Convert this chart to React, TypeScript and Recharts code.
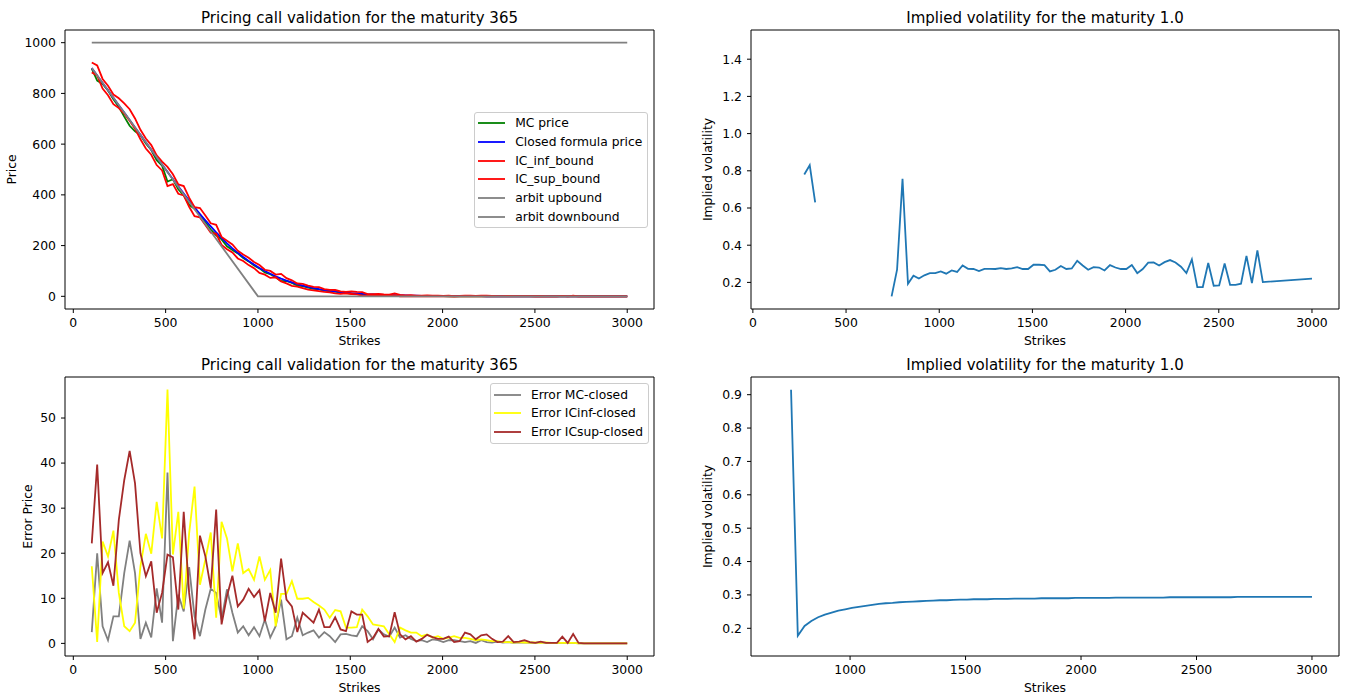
import React from 'react';
import { LineChart, Line, XAxis, YAxis, ReferenceArea, Legend } from 'recharts';

// strikes used for every pricing run
const strikes = [
  100.0, 129.3, 158.6, 187.9, 217.2, 246.5, 275.8, 305.1, 334.3, 363.6,
  392.9, 422.2, 451.5, 480.8, 510.1, 539.4, 568.7, 598.0, 627.3, 656.6,
  685.9, 715.2, 744.4, 773.7, 803.0, 832.3, 861.6, 890.9, 920.2, 949.5,
  978.8, 1008.1, 1037.4, 1066.7, 1096.0, 1125.3, 1154.5, 1183.8, 1213.1, 1242.4,
  1271.7, 1301.0, 1330.3, 1359.6, 1388.9, 1418.2, 1447.5, 1476.8, 1506.1, 1535.4,
  1564.6, 1593.9, 1623.2, 1652.5, 1681.8, 1711.1, 1740.4, 1769.7, 1799.0, 1828.3,
  1857.6, 1886.9, 1916.2, 1945.5, 1974.7, 2004.0, 2033.3, 2062.6, 2091.9, 2121.2,
  2150.5, 2179.8, 2209.1, 2238.4, 2267.7, 2297.0, 2326.3, 2355.6, 2384.8, 2414.1,
  2443.4, 2472.7, 2502.0, 2531.3, 2560.6, 2589.9, 2619.2, 2648.5, 2677.8, 2707.1,
  2736.4, 2765.7, 2795.0, 2824.2, 2853.5, 2882.8, 2912.1, 2941.4, 2970.7, 3000.0,
];

const closedPrice = [
  900.0, 870.7, 841.4, 812.1, 782.8, 753.5, 724.2, 695.0, 665.7, 636.5,
  607.2, 578.0, 548.9, 519.6, 490.6, 461.9, 433.5, 405.4, 377.7, 350.7,
  324.3, 299.7, 275.5, 252.1, 230.0, 209.0, 189.2, 171.5, 155.1, 139.6,
  125.2, 111.7, 99.7, 88.9, 79.0, 69.9, 62.0, 54.8, 48.0, 42.1,
  36.8, 32.7, 28.5, 24.8, 21.6, 19.1, 16.8, 14.7, 12.7, 11.2,
  9.9, 8.4, 7.4, 6.5, 5.7, 5.0, 4.3, 3.7, 3.2, 2.7,
  2.3, 2.0, 1.7, 1.5, 1.3, 1.1, 0.95, 0.8, 0.7, 0.6,
  0.5, 0.43, 0.37, 0.32, 0.27, 0.23, 0.2, 0.17, 0.15, 0.13,
  0.11, 0.1, 0.08, 0.07, 0.06, 0.05, 0.04, 0.04, 0.03, 0.03,
  0.02, 0.02, 0.02, 0.01, 0.01, 0.01, 0.01, 0.01, 0.0, 0.0,
];

const mcError = [
  2.5, 20.0, 3.8, 0.7, 6.0, 6.0, 15.6, 22.8, 15.6, 1.0,
  4.6, 1.3, 12.2, 4.6, 37.9, 0.5, 10.8, 7.1, 16.9, 6.0,
  1.6, 7.5, 12.1, 11.2, 5.3, 12.0, 6.8, 2.4, 3.8, 1.8,
  3.6, 1.6, 5.3, 1.3, 3.8, 9.7, 0.9, 1.6, 5.7, 1.8,
  2.4, 2.9, 1.3, 2.5, 1.6, 0.3, 2.0, 2.1, 1.8, 1.6,
  3.8, 2.7, 0.9, 3.1, 2.0, 1.5, 3.5, 1.3, 1.8, 1.0,
  0.5, 0.7, 0.3, 0.9, 0.7, 0.3, 0.7, 0.7, 0.5, 0.3,
  0.5, 0.1, 0.7, 0.3, 0.2, 0.4, 0.2, 0.3, 0.1, 0.2,
  0.2, 0.1, 0.1, 0.2, 0.1, 0.1, 0.1, 0.1, 0.1, 0.1,
  0.0, 0.0, 0.0, 0.0, 0.0, 0.0, 0.0, 0.0, 0.0, 0.0,
];

const icInfError = [
  17.1, 0.3, 22.6, 19.3, 25.0, 11.2, 3.8, 2.7, 4.6, 17.1,
  24.3, 19.9, 31.4, 23.3, 56.3, 19.7, 29.2, 7.7, 24.4, 34.8,
  13.0, 18.6, 24.6, 5.7, 27.0, 23.3, 16.0, 22.2, 15.6, 16.5,
  14.1, 19.3, 14.1, 16.3, 3.8, 11.0, 11.0, 13.8, 9.9, 9.9,
  10.1, 9.2, 8.4, 7.5, 5.7, 7.4, 7.1, 3.5, 3.5, 3.6,
  7.5, 6.0, 4.2, 4.0, 3.8, 2.0, 0.3, 3.5, 2.9, 2.4,
  2.4, 1.6, 2.0, 1.3, 1.6, 1.0, 1.3, 1.6, 1.2, 1.2,
  1.0, 0.7, 0.9, 0.7, 0.5, 0.5, 0.3, 0.3, 0.2, 0.3,
  0.2, 0.2, 0.2, 0.1, 0.2, 0.1, 0.1, 0.1, 0.1, 0.1,
  0.0, 0.0, 0.0, 0.0, 0.0, 0.0, 0.0, 0.0, 0.0, 0.0,
];

const icSupError = [
  22.2, 39.7, 15.6, 18.0, 12.8, 27.4, 36.2, 42.7, 35.5, 20.0,
  14.9, 18.2, 6.8, 11.2, 19.7, 19.1, 7.5, 29.2, 11.2, 0.9,
  23.9, 19.3, 12.3, 29.7, 4.2, 10.5, 15.0, 8.2, 9.7, 12.1,
  10.3, 11.8, 4.9, 11.2, 6.8, 18.8, 9.7, 8.2, 2.5, 6.8,
  5.7, 4.6, 7.5, 3.6, 3.6, 5.8, 3.1, 2.7, 7.1, 6.4,
  6.4, 0.3, 1.2, 3.2, 1.5, 1.6, 6.9, 2.0, 0.9, 1.6,
  0.4, 1.0, 1.9, 1.4, 1.0, 1.0, 1.5, 0.3, 0.5, 2.4,
  2.0, 0.9, 1.8, 2.0, 1.0, 0.3, 0.4, 1.6, 0.3, 0.4,
  0.7, 0.3, 0.1, 0.4, 0.1, 0.1, 0.1, 1.5, 0.1, 2.1,
  0.1, 0.0, 0.0, 0.0, 0.0, 0.0, 0.0, 0.0, 0.0, 0.0,
];

// no-arbitrage bounds (straight pieces, only the corners)
const arbitUpStrikes = [100, 3000];
const arbitUpValues = [1000, 1000];
const arbitDownStrikes = [100, 1000, 3000];
const arbitDownValues = [900, 0, 0];

// implied vol from the MC prices (null = not found)
const ivMcStrikes = [
  275.8, 305.1, 334.3, 363.6, 744.4, 773.7, 803.0, 832.3, 861.6, 890.9,
  920.2, 949.5, 978.8, 1008.1, 1037.4, 1066.7, 1096.0, 1125.3, 1154.5, 1183.8,
  1213.1, 1242.4, 1271.7, 1301.0, 1330.3, 1359.6, 1388.9, 1418.2, 1447.5, 1476.8,
  1506.1, 1535.4, 1564.6, 1593.9, 1623.2, 1652.5, 1681.8, 1711.1, 1740.4, 1769.7,
  1799.0, 1828.3, 1857.6, 1886.9, 1916.2, 1945.5, 1974.7, 2004.0, 2033.3, 2062.6,
  2091.9, 2121.2, 2150.5, 2179.8, 2209.1, 2238.4, 2267.7, 2297.0, 2326.3, 2355.6,
  2384.8, 2414.1, 2443.4, 2472.7, 2502.0, 2531.3, 2560.6, 2589.9, 2619.2, 2648.5,
  2677.8, 2707.1, 2736.4, 3000.0,
];
const ivMcValues = [
  0.78, 0.83, 0.63, null, 0.125, 0.268, 0.757, 0.193, 0.236, 0.221,
  0.238, 0.25, 0.25, 0.259, 0.247, 0.264, 0.256, 0.291, 0.273, 0.272,
  0.261, 0.273, 0.273, 0.272, 0.277, 0.272, 0.275, 0.282, 0.272, 0.272,
  0.295, 0.295, 0.293, 0.259, 0.268, 0.288, 0.272, 0.275, 0.316, 0.291,
  0.268, 0.282, 0.28, 0.264, 0.293, 0.28, 0.272, 0.272, 0.293, 0.25,
  0.272, 0.306, 0.307, 0.291, 0.309, 0.32, 0.307, 0.284, 0.25, 0.324,
  0.175, 0.175, 0.304, 0.182, 0.184, 0.302, 0.187, 0.187, 0.193, 0.343,
  0.196, 0.372, 0.202, 0.22,
];

// implied vol from the closed formula prices, strikes from index 22 on
const ivClosedValues = [
  0.915, 0.178, 0.207, 0.222, 0.233, 0.241, 0.247, 0.253, 0.257, 0.261,
  0.264, 0.267, 0.270, 0.273, 0.275, 0.276, 0.278, 0.279, 0.280, 0.281,
  0.282, 0.283, 0.284, 0.284, 0.285, 0.286, 0.286, 0.287, 0.287, 0.287,
  0.288, 0.288, 0.288, 0.289, 0.289, 0.289, 0.289, 0.290, 0.290, 0.290,
  0.290, 0.290, 0.291, 0.291, 0.291, 0.291, 0.291, 0.291, 0.292, 0.292,
  0.292, 0.292, 0.292, 0.292, 0.292, 0.292, 0.293, 0.293, 0.293, 0.293,
  0.293, 0.293, 0.293, 0.293, 0.293, 0.293, 0.294, 0.294, 0.294, 0.294,
  0.294, 0.294, 0.294, 0.294, 0.294, 0.294, 0.294, 0.294,
];

const strikeTicks = [0, 500, 1000, 1500, 2000, 2500, 3000];
const strikeTicksRight = [1000, 1500, 2000, 2500, 3000];
const priceTicks = [0, 200, 400, 600, 800, 1000];
const errorTicks = [0, 10, 20, 30, 40, 50];
const ivTicksTop = [0.2, 0.4, 0.6, 0.8, 1.0, 1.2, 1.4];
const ivTicksBottom = [0.2, 0.3, 0.4, 0.5, 0.6, 0.7, 0.8, 0.9];

const priceNames = ['MC price', 'Closed formula price', 'IC_inf_bound', 'IC_sup_bound', 'arbit upbound', 'arbit downbound'];
const errorNames = ['Error MC-closed', 'Error ICinf-closed', 'Error ICsup-closed'];

const priceRows = strikes.map((K, i) => ({
  K,
  mc: closedPrice[i] - mcError[i],
  closed: closedPrice[i],
  icInf: closedPrice[i] - icInfError[i],
  icSup: closedPrice[i] + icSupError[i],
}));
const upRows = arbitUpStrikes.map((K, i) => ({ K, v: arbitUpValues[i] }));
const downRows = arbitDownStrikes.map((K, i) => ({ K, v: arbitDownValues[i] }));
const errorRows = strikes.map((K, i) => ({ K, mc: mcError[i], inf: icInfError[i], sup: icSupError[i] }));
const ivMcRows = ivMcStrikes.map((K, i) => ({ K, iv: ivMcValues[i] }));
const ivClosedRows = strikes.slice(22).map((K, i) => ({ K, iv: ivClosedValues[i] }));

const FONT = 'DejaVu Sans';
const TICK = 12.4;
const LW = 1.8;

const tickStyle = { fontSize: TICK, fill: '#000', fontFamily: FONT };
const xCommon = {
  dataKey: 'K',
  type: 'number' as const,
  allowDataOverflow: true,
  height: 40,
  tickSize: 4,
  tickMargin: 5,
  axisLine: false,
  tickLine: { stroke: '#000' },
  tick: tickStyle,
  interval: 0 as const,
  label: { value: 'Strikes', position: 'insideBottom' as const, offset: 4, fill: '#000', fontSize: TICK, fontFamily: FONT },
};
const yCommon = {
  type: 'number' as const,
  allowDataOverflow: true,
  width: 64,
  tickSize: 4,
  tickMargin: 5,
  axisLine: false,
  tickLine: { stroke: '#000' },
  tick: tickStyle,
  interval: 0 as const,
};
const yLabel = (value: string, dx: number) => ({
  value, angle: -90, position: 'center' as const, dx, fill: '#000', fontSize: TICK, fontFamily: FONT,
});
const frameLabel = (value: string) => ({
  value, position: 'top' as const, offset: 7, fill: '#000', fontSize: 15, fontFamily: FONT,
});

const LegendBox = ({ payload, order }: any) => {
  const items = [...(payload || [])].sort((a: any, b: any) => order.indexOf(a.value) - order.indexOf(b.value));
  return (
    <div style={{
      background: 'rgba(255,255,255,0.8)', border: '1px solid #cccccc', borderRadius: 3,
      padding: '1px 5px 1px 3px', fontFamily: FONT, fontSize: 12.3, color: '#000',
    }}>
      {items.map((it: any) => (
        <div key={it.value} style={{ display: 'flex', alignItems: 'center', height: 18.8 }}>
          <svg width={27} height={4} style={{ marginRight: 10 }}>
            <line x1={0} y1={2} x2={27} y2={2} stroke={it.color} strokeWidth={LW} />
          </svg>
          <span style={{ whiteSpace: 'nowrap' }}>{it.value}</span>
        </div>
      ))}
    </div>
  );
};

const box = (left: number, top: number): React.CSSProperties => ({ position: 'absolute', left, top });

export default function App() {
  return (
    <div style={{ position: 'absolute', left: 0, top: 0, width: 1351, height: 696, overflow: 'hidden', background: '#fff', fontFamily: FONT }}>
      {/* prices */}
      <div style={box(1, 0)}>
        <LineChart width={659} height={349} data={priceRows} margin={{ top: 30, right: 6, bottom: 0, left: 0 }}>
          <XAxis {...xCommon} domain={[-45, 3145]} ticks={strikeTicks} />
          <YAxis {...yCommon} domain={[-50, 1050]} ticks={priceTicks} label={yLabel('Price', -21)} />
          <ReferenceArea x1={-45} x2={3145} y1={-50} y2={1050} fill="none" stroke="#000" strokeWidth={1}
            ifOverflow="visible" label={frameLabel('Pricing call validation for the maturity 365')} />
          <Line dataKey="mc" name="MC price" stroke="#008000" strokeWidth={LW} dot={false} isAnimationActive={false} />
          <Line dataKey="closed" name="Closed formula price" stroke="#0000ff" strokeWidth={LW} dot={false} isAnimationActive={false} />
          <Line dataKey="icInf" name="IC_inf_bound" stroke="#ff0000" strokeWidth={LW} dot={false} isAnimationActive={false} />
          <Line dataKey="icSup" name="IC_sup_bound" stroke="#ff0000" strokeWidth={LW} dot={false} isAnimationActive={false} />
          <Line data={upRows} dataKey="v" name="arbit upbound" stroke="#808080" strokeWidth={LW} dot={false} isAnimationActive={false} />
          <Line data={downRows} dataKey="v" name="arbit downbound" stroke="#808080" strokeWidth={LW} dot={false} isAnimationActive={false} />
          <Legend layout="horizontal" verticalAlign="middle" align="center"
            wrapperStyle={{ right: 11.7, top: 111.7, width: 'auto', height: 'auto' }}
            content={(p: any) => <LegendBox {...p} order={priceNames} />} />
        </LineChart>
      </div>

      {/* implied vol of MC prices */}
      <div style={box(687, 0)}>
        <LineChart width={658} height={349} data={ivMcRows} margin={{ top: 30, right: 6, bottom: 0, left: 0 }}>
          <XAxis {...xCommon} domain={[-10, 3145]} ticks={strikeTicks} />
          <YAxis {...yCommon} domain={[0.057, 1.557]} ticks={ivTicksTop} tickFormatter={(v: number) => v.toFixed(1)}
            label={yLabel('Implied volatility', -11)} />
          <ReferenceArea x1={-10} x2={3145} y1={0.057} y2={1.557} fill="none" stroke="#000" strokeWidth={1}
            ifOverflow="visible" label={frameLabel('Implied volatility for the maturity 1.0')} />
          <Line dataKey="iv" stroke="#1f77b4" strokeWidth={LW} dot={false} isAnimationActive={false} />
        </LineChart>
      </div>

      {/* errors */}
      <div style={box(1, 345)}>
        <LineChart width={659} height={351} data={errorRows} margin={{ top: 32, right: 6, bottom: 0, left: 0 }}>
          <XAxis {...xCommon} domain={[-45, 3145]} ticks={strikeTicks} />
          <YAxis {...yCommon} domain={[-2.8, 59.1]} ticks={errorTicks} label={yLabel('Error Price', -5)} />
          <ReferenceArea x1={-45} x2={3145} y1={-2.8} y2={59.1} fill="none" stroke="#000" strokeWidth={1}
            ifOverflow="visible" label={frameLabel('Pricing call validation for the maturity 365')} />
          <Line dataKey="mc" name="Error MC-closed" stroke="#808080" strokeWidth={LW} dot={false} isAnimationActive={false} />
          <Line dataKey="inf" name="Error ICinf-closed" stroke="#ffff00" strokeWidth={LW} dot={false} isAnimationActive={false} />
          <Line dataKey="sup" name="Error ICsup-closed" stroke="#a52a2a" strokeWidth={LW} dot={false} isAnimationActive={false} />
          <Legend layout="horizontal" verticalAlign="middle" align="center"
            wrapperStyle={{ right: 11, top: 38.3, width: 'auto', height: 'auto' }}
            content={(p: any) => <LegendBox {...p} order={errorNames} />} />
        </LineChart>
      </div>

      {/* implied vol of closed formula prices */}
      <div style={box(687, 345)}>
        <LineChart width={658} height={351} data={ivClosedRows} margin={{ top: 32, right: 6, bottom: 0, left: 0 }}>
          <XAxis {...xCommon} domain={[571, 3117]} ticks={strikeTicksRight} />
          <YAxis {...yCommon} domain={[0.117, 0.953]} ticks={ivTicksBottom} tickFormatter={(v: number) => v.toFixed(1)}
            label={yLabel('Implied volatility', -11)} />
          <ReferenceArea x1={571} x2={3117} y1={0.117} y2={0.953} fill="none" stroke="#000" strokeWidth={1}
            ifOverflow="visible" label={frameLabel('Implied volatility for the maturity 1.0')} />
          <Line dataKey="iv" stroke="#1f77b4" strokeWidth={LW} dot={false} isAnimationActive={false} />
        </LineChart>
      </div>
    </div>
  );
}
